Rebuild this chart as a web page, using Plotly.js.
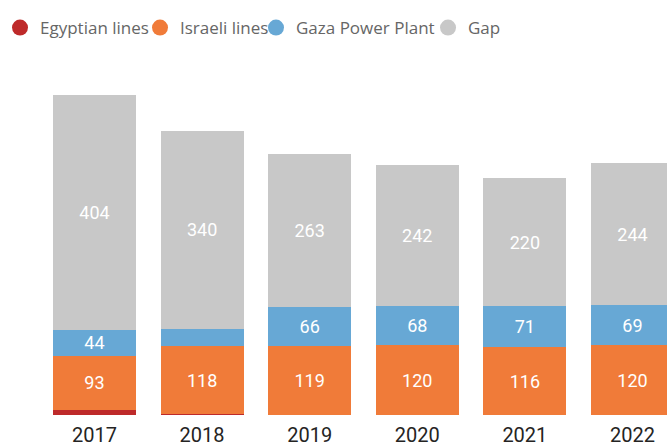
<!DOCTYPE html>
<html>
<head>
<meta charset="utf-8">
<script src="https://cdn.plot.ly/plotly-3.0.1.min.js"></script>
<style>html,body{margin:0;padding:0;background:#fff;overflow:hidden}#chart{width:667px;height:446px}</style>
</head>
<body>
<div id="chart"></div>
<script>
const years = ['2017', '2018', '2019', '2020', '2021', '2022'];
const egyptian = [9, 1, 0, 0, 0, 0];
const israeli = [93, 118, 119, 120, 116, 120];
const gazaPlant = [44, 29, 66, 68, 71, 69];
const gap = [404, 340, 263, 242, 220, 244];

const seriesNames = ['Egyptian lines', 'Israeli lines', 'Gaza Power Plant', 'Gap'];
const seriesValues = [egyptian, israeli, gazaPlant, gap];
const seriesColors = ['#BE2A2A', '#F07B39', '#67A8D5', '#C8C8C8'];
const legendIds = ['legend', 'legend2', 'legend3', 'legend4'];
const legendX = [0, 0.2099, 0.3838, 0.6417];

const traces = [];
seriesValues.forEach((vals, i) => {
  traces.push({
    type: 'bar',
    x: years,
    y: vals,
    name: seriesNames[i],
    marker: {color: seriesColors[i], line: {width: 0}},
    text: vals.map(v => v >= 35 ? String(v) : ''),
    textposition: 'inside',
    insidetextanchor: 'middle',
    textangle: 0,
    constraintext: 'none',
    textfont: {family: 'Roboto, sans-serif', size: 18, color: '#ffffff'},
    hoverinfo: 'skip',
    showlegend: false
  });
});
// legend entries with round markers
seriesValues.forEach((vals, i) => {
  traces.push({
    type: 'scatter',
    mode: 'markers',
    x: [null], y: [null],
    name: seriesNames[i],
    legend: legendIds[i],
    marker: {color: seriesColors[i], size: 16, symbol: 'circle'},
    showlegend: true,
    hoverinfo: 'skip'
  });
});

const layout = {
  width: 667, height: 446,
  margin: {l: 0, r: 0, t: 60, b: 31},
  barmode: 'stack',
  bargap: 0.229,
  paper_bgcolor: '#ffffff',
  plot_bgcolor: '#ffffff',
  showlegend: true,
  xaxis: {
    type: 'category',
    range: [-0.878, 5.321],
    showgrid: false, zeroline: false, showline: false,
    ticks: 'outside', ticklen: 2, tickcolor: 'rgba(0,0,0,0)',
    tickfont: {family: 'Roboto, sans-serif', size: 20, color: '#252423'},
    automargin: false,
    fixedrange: true
  },
  yaxis: {
    range: [0, 610],
    showgrid: false, zeroline: false, showline: false, showticklabels: false,
    automargin: false, fixedrange: true
  }
};
legendIds.forEach((id, i) => {
  layout[id] = {
    orientation: 'h', traceorder: 'normal',
    x: legendX[i], xanchor: 'left', xref: 'container',
    y: 0.9776, yanchor: 'top', yref: 'container',
    bgcolor: 'rgba(0,0,0,0)',
    font: {family: 'Open Sans, sans-serif', size: 17, color: '#666666'},
    itemgap: 0, itemwidth: 30
  };
});
Plotly.newPlot('chart', traces, layout, {displayModeBar: false, staticPlot: true});
</script>
</body>
</html>
